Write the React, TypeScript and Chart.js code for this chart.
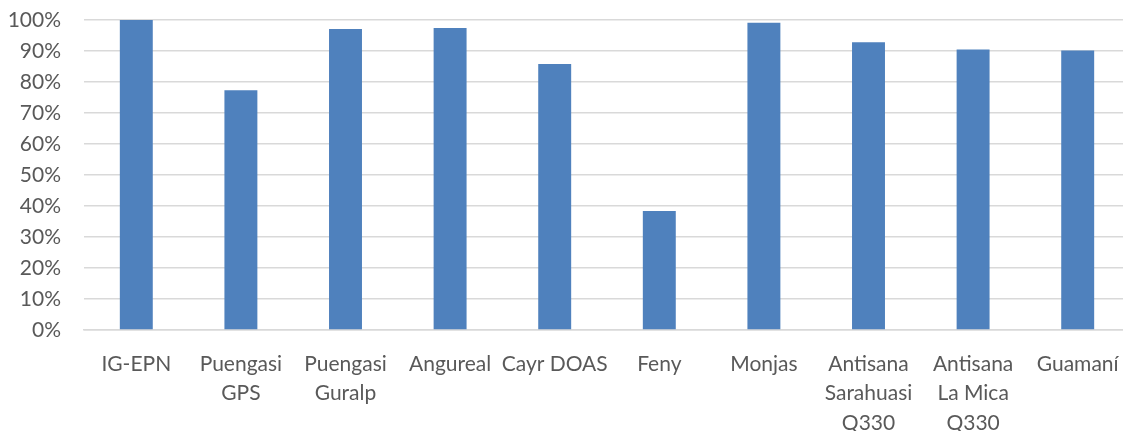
import React, { useEffect, useRef } from "react";
import { Chart, registerables } from "chart.js";

Chart.register(...registerables);

const categories: (string | string[])[] = [
  "IG-EPN",
  ["Puengasi", "GPS"],
  ["Puengasi", "Guralp"],
  "Angureal",
  "Cayr DOAS",
  "Feny",
  "Monjas",
  ["Antisana", "Sarahuasi", "Q330"],
  ["Antisana", "La Mica", "Q330"],
  "Guamaní",
];

const values: number[] = [1.0, 0.773, 0.971, 0.974, 0.858, 0.384, 0.991, 0.928, 0.905, 0.902];

const yTicks: number[] = [0, 0.1, 0.2, 0.3, 0.4, 0.5, 0.6, 0.7, 0.8, 0.9, 1.0];

export default function App() {
  const ref = useRef<HTMLCanvasElement | null>(null);

  useEffect(() => {
    if (!ref.current) return;
    const chart = new Chart(ref.current, {
      type: "bar",
      data: {
        labels: categories,
        datasets: [
          {
            data: values,
            backgroundColor: "#4F81BD",
            borderWidth: 0,
            categoryPercentage: 1,
            barPercentage: 0.315,
          },
        ],
      },
      options: {
        animation: false,
        responsive: false,
        maintainAspectRatio: false,
        layout: { padding: { top: 20, left: 0, right: 0, bottom: 0 } },
        plugins: { legend: { display: false }, tooltip: { enabled: false } },
        scales: {
          x: {
            grid: { display: false },
            border: { display: true, color: "#D9D9D9", width: 1.5 },
            ticks: {
              color: "#595959",
              font: { family: "Lato", size: 21, lineHeight: 1.405 },
              padding: 11,
              maxRotation: 0,
              autoSkip: false,
            },
            afterFit: (s: any) => {
              s.height = 101;
            },
          },
          y: {
            min: 0,
            max: 1,
            afterBuildTicks: (s: any) => {
              s.ticks = yTicks.map((v) => ({ value: v }));
            },
            grid: {
              color: "#D9D9D9",
              lineWidth: 1.5,
              drawTicks: true,
              tickLength: 20,
              tickColor: "rgba(0,0,0,0)",
            },
            border: { display: false },
            ticks: {
              color: "#595959",
              font: { family: "Lato", size: 21 },
              padding: 3,
              callback: (v: any) => Math.round(Number(v) * 100) + "%",
            },
            afterFit: (s: any) => {
              s.width = 84;
            },
          },
        },
      },
    });
    return () => chart.destroy();
  }, []);

  return (
    <div
      style={{
        position: "fixed",
        left: 0,
        top: 0,
        width: 1123,
        height: 431,
        overflow: "hidden",
        background: "#fff",
      }}
    >
      <canvas ref={ref} width={1130} height={431} style={{ display: "block" }} />
    </div>
  );
}
